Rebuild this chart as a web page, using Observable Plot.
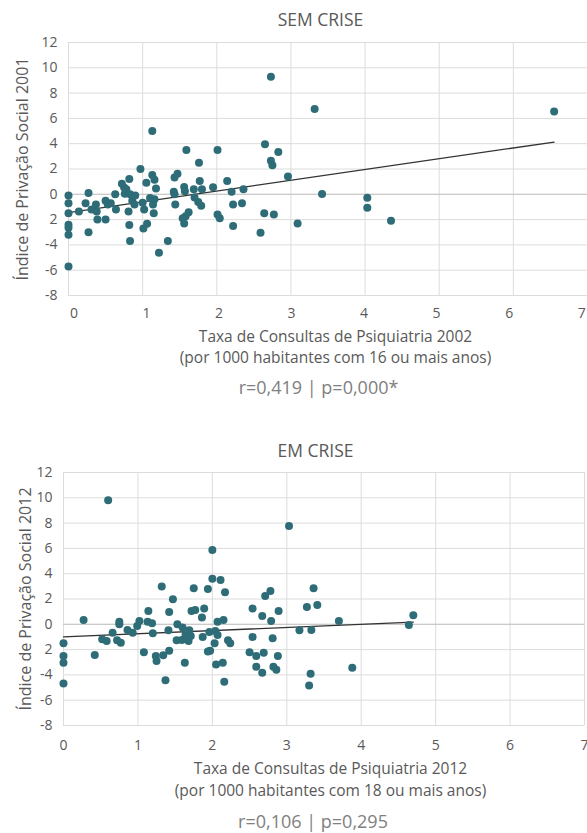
<!DOCTYPE html>
<html><head><meta charset="utf-8">
<script src="https://cdn.jsdelivr.net/npm/d3@7"></script>
<script src="https://cdn.jsdelivr.net/npm/@observablehq/plot@0.6"></script>
<style>
body{margin:0;background:#fff;}
#wrap{position:relative;width:587px;height:833px;font-family:"Open Sans",sans-serif;}
#wrap svg{position:absolute;left:0;}
</style></head><body><div id="wrap"></div>
<script>
// ---- SEM CRISE (2001 / 2002) ----
const semX = [0,0,0,0,0,0,0,
  0.14,0.23,0.27,0.27,0.31,0.37,0.38,0.39,
  0.5,0.5,0.53,0.57,0.63,0.64,
  0.72,0.75,0.76,0.78,0.82,0.81,0.82,0.83,0.83,0.86,0.9,0.89,
  0.97,1.0,1.02,1.01,1.05,1.06,1.1,1.13,1.13,1.14,1.15,1.16,1.18,1.16,
  1.22,1.34,1.43,1.47,1.42,1.43,1.44,
  1.54,1.56,1.58,1.62,1.56,1.57,1.59,
  1.69,1.7,1.75,1.76,1.77,1.79,1.8,
  1.95,2.01,2.01,2.04,2.14,2.2,2.22,2.22,2.34,2.36,
  2.59,2.64,2.65,2.73,2.73,2.75,2.77,2.83,2.96,3.09,
  3.32,3.42,4.03,4.03,4.35,6.55];
const semY = [-0.1,-0.7,-1.5,-2.4,-2.65,-3.2,-5.7,
  -1.35,-0.7,0.1,-3.0,-1.2,-0.8,-1.35,-2.0,
  -2.0,-0.5,-0.8,-0.7,0.0,-1.2,
  0.84,0.53,0.05,0.4,1.2,-1.35,-2.43,-3.7,0.0,-0.5,-0.1,-0.8,
  2.0,-0.66,-1.2,-2.7,0.92,-2.33,-0.3,1.53,5.0,-0.8,-1.5,1.15,0.45,-0.4,
  -4.62,-3.7,1.32,1.63,0.2,0.0,-0.8,
  -1.9,-2.3,-1.73,-1.42,0.57,0.24,3.5,
  0.4,-0.25,-0.6,2.5,1.05,-0.9,0.4,
  0.55,3.5,-1.6,-1.9,1.05,0.2,-0.8,-2.5,-0.7,0.4,
  -3.03,-1.5,3.95,9.3,2.65,2.3,-1.6,3.35,1.4,-2.3,
  6.75,0.02,-0.27,-1.06,-2.1,6.54];
const semTrend = {intercept: -1.45, slope: 0.852};

// ---- EM CRISE (2012) ----
const emX = [0,0,0,0,0.27,0.42,0.52,0.58,0.6,0.66,0.72,0.75,0.75,0.77,0.86,0.93,0.99,1.02,1.08,1.14,1.13,1.19,1.2,1.24,1.25,
  1.32,1.34,1.37,1.41,1.42,1.42,1.47,1.52,1.53,1.59,1.6,1.63,1.64,1.68,1.69,1.71,1.72,1.75,1.77,1.86,1.87,1.89,1.94,1.94,1.97,1.96,
  2.0,2.0,2.03,2.04,2.05,2.07,2.07,2.11,2.14,2.15,2.16,2.17,2.21,2.24,
  2.5,2.54,2.54,2.59,2.59,2.67,2.67,2.69,2.71,2.78,2.79,2.81,2.82,2.86,2.88,2.89,
  3.03,3.17,3.27,3.33,3.32,3.3,3.36,3.41,3.7,3.88,4.64,4.7];
const emY = [-1.5,-2.5,-3.03,-4.67,0.34,-2.43,-1.19,-1.32,9.8,-0.66,-1.27,0.2,0.0,-1.45,-0.45,-0.66,-0.13,0.26,-2.2,1.05,0.2,0.08,-0.71,-2.5,-2.9,
  2.98,-2.45,-4.43,-0.47,0.98,-2.1,1.98,-1.27,0.0,-1.24,-0.26,-3.03,-0.8,-1.32,-0.47,-0.92,1.05,2.85,1.13,0.53,-1.0,1.24,2.8,-2.16,-2.1,-0.6,
  5.88,3.6,-1.5,-0.53,-3.17,-0.84,0.2,3.5,-3.03,0.34,-4.54,2.53,-1.27,-1.5,
  -2.2,1.24,-1.0,-2.5,-3.35,-3.83,0.66,-2.24,2.24,2.64,0.26,-1.1,-3.35,-3.6,-2.5,1.05,
  7.78,-0.47,1.37,-0.45,-3.9,-4.83,2.85,1.53,0.26,-3.43,-0.05,0.71];
const emTrend = {intercept: -1.0, slope: 0.251};

// ---- axes ----
const xTicks = [0,1,2,3,4,5,6,7];
const yTicks = [12,10,8,6,4,2,0,-2,-4,-6,-8];
const yTickLabels = ["12","10","8","6","4","2","0","2","-4","-6","-8"];

const charts = [
  {top:0, height:420, mb:125, ml:68, mr:0, x:semX, y:semY, trend:semTrend,
   title:"SEM CRISE", ylabel:"Índice de Privação Social 2001",
   xlabel1:"Taxa de Consultas de Psiquiatria 2002", xlabel2:"(por 1000 habitantes com 16 ou mais anos)",
   stat:"r=0,419 | p=0,000*", tickPos: d => d*0.978 + 0.075,
   tdx:-7.5, ldx:7.5, sdx:-9.5, ytdx:-46, dTick:18, d1:42, d2:63, d3:93, dTitle:-22},
  {top:430, height:403, mb:108, ml:63, mr:3, x:emX, y:emY, trend:emTrend,
   title:"EM CRISE", ylabel:"Índice de Privação Social 2012",
   xlabel1:"Taxa de Consultas de Psiquiatria 2012", xlabel2:"(por 1000 habitantes com 18 ou mais anos)",
   stat:"r=0,106 | p=0,295", tickPos: d => d,
   tdx:-8.5, ldx:6.5, sdx:-11, ytdx:-38, dTick:20, d1:44, d2:66, d3:97, dTitle:-21}
];

const ink = "#595959";
const labelOf = new Map(yTicks.map((v,i)=>[v, yTickLabels[i]]));

for (const c of charts) {
  const data = c.x.map((x,i)=>({x, y:c.y[i]}));
  const x0 = d3.min(c.x), x1 = d3.max(c.x);
  const trend = [x0, x1].map(x => ({x, y: c.trend.intercept + c.trend.slope*x}));
  const svg = Plot.plot({
    width:587, height:c.height, marginTop:42, marginBottom:c.mb, marginLeft:c.ml, marginRight:c.mr,
    x:{domain:[0,7], axis:null},
    y:{domain:[-8,12], axis:null},
    style:{fontFamily:'"Open Sans", sans-serif', background:"transparent", overflow:"visible"},
    marks:[
      Plot.ruleX(xTicks, {x:d=>d, stroke:"#dcdcdc", strokeWidth:1}),
      Plot.ruleY(yTicks, {y:d=>d, stroke:"#dcdcdc", strokeWidth:1}),
      Plot.ruleY([0], {stroke:"#c4c4c4", strokeWidth:1}),
      Plot.text(yTicks, {y:d=>d, frameAnchor:"left", dx:-11, textAnchor:"end", lineAnchor:"middle", text:d=>labelOf.get(d), fontSize:14, fill:ink}),
      Plot.text(xTicks, {x:c.tickPos, frameAnchor:"bottom", dy:c.dTick, lineAnchor:"middle", text:d=>String(d), fontSize:14, fill:ink}),
      Plot.line(trend, {x:"x", y:"y", stroke:"#333", strokeWidth:1.3}),
      Plot.dot(data, {x:"x", y:"y", r:4, fill:"#2e6d77"}),
      Plot.text([c.title], {frameAnchor:"top", dy:c.dTitle, dx:c.tdx, lineAnchor:"middle", fontSize:17.5, letterSpacing:"1.5px", fill:ink}),
      Plot.text([c.ylabel], {frameAnchor:"left", dx:c.ytdx, rotate:-90, textAnchor:"middle", lineAnchor:"middle", fontSize:16, letterSpacing:"0.8px", fill:ink}),
      Plot.text([c.xlabel1], {frameAnchor:"bottom", dy:c.d1, dx:c.ldx, lineAnchor:"middle", fontSize:15.5, letterSpacing:"0.9px", fill:ink}),
      Plot.text([c.xlabel2], {frameAnchor:"bottom", dy:c.d2, dx:c.ldx, lineAnchor:"middle", fontSize:15.5, letterSpacing:"0.9px", fill:ink}),
      Plot.text([c.stat], {frameAnchor:"bottom", dy:c.d3, dx:c.sdx, lineAnchor:"middle", fontSize:18, letterSpacing:"1px", fill:"#808080"})
    ]
  });
  svg.style.top = c.top + "px";
  document.getElementById("wrap").appendChild(svg);
}
</script></body></html>
